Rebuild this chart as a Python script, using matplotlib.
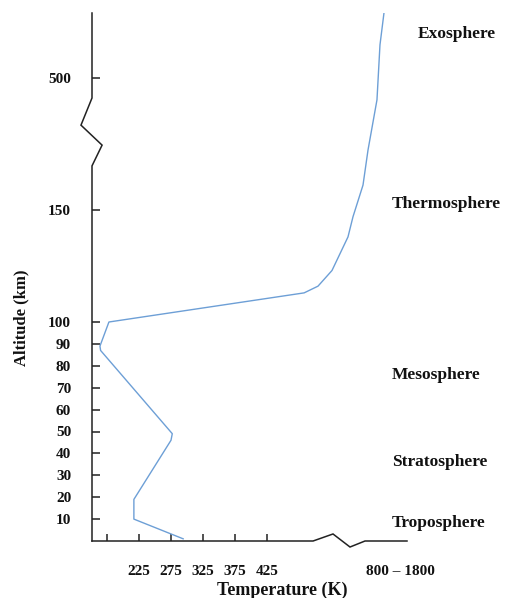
import numpy as np
import matplotlib
matplotlib.use("Agg")
import matplotlib.pyplot as plt
import matplotlib.transforms as mtransforms

# Temperature profile of the atmosphere
temperature = [294, 217, 217, 275, 277, 165, 164, 178, 483, 518, 602, 698,
               728, 788, 843, 971, 1014, 1071]
altitude = [1, 10, 19, 46, 49, 87, 89, 100, 113, 116, 123, 138,
            147, 216, 309, 442, 602, 700]

alt_ticks = [10, 20, 30, 40, 50, 60, 70, 80, 90, 100, 150, 500]
temp_ticks = [175, 225, 275, 325, 375, 425]
temp_labels = ["", "225", "275", "325", "375", "425"]
hot_label = "800 \u2013 1800"

layers = ["Exosphere", "Thermosphere", "Mesosphere", "Stratosphere", "Troposphere"]
layer_alt = [635, 166, 76, 36, 8.3]
layer_x = [418, 392, 392, 392, 392]

# piecewise (broken) axis scales
T_knots = [0, 150, 500, 800, 1800, 5000]
T_px = [-5, 91, 315, 365, 435, 659]
A_knots = [-100, 0, 100, 150, 500, 700, 2000]
A_px = [-162, 57, 276, 388, 520, 585, 1007]


def t_fwd(v):
    return np.interp(v, T_knots, T_px)


def t_inv(v):
    return np.interp(v, T_px, T_knots)


def a_fwd(v):
    return np.interp(v, A_knots, A_px)


def a_inv(v):
    return np.interp(v, A_px, A_knots)


W, H = 506, 598
fig = plt.figure(figsize=(W / 100, H / 100), dpi=100)
ax = fig.add_axes([92 / W, 57 / H, (407 - 92) / W, (585 - 57) / H])
ax.set_xscale("function", functions=(t_fwd, t_inv))
ax.set_yscale("function", functions=(a_fwd, a_inv))
ax.set_xlim(t_inv(92), 1400)
ax.set_ylim(0, 700)

serif = "Liberation Serif"
ax.plot(temperature, altitude, color="#6d9fd6", lw=1.0)

for s in ax.spines.values():
    s.set_visible(False)

# axis lines with break marks
lk = dict(color="#222222", lw=1.1, clip_on=False, solid_joinstyle="miter")
yb = mtransforms.blended_transform_factory(ax.transAxes, ax.transData)
ax.plot([0, 0, -0.035, 0.032, 0, 0], [700, 447, 375, 322, 267, 0], transform=yb, **lk)
xb = mtransforms.blended_transform_factory(ax.transData, ax.transAxes)
ax.plot([t_inv(92), 497, 608, 710, 800, 1400], [0, 0, 0.0133, -0.0114, 0, 0],
        transform=xb, **lk)

ax.set_yticks(alt_ticks)
ax.set_yticklabels([str(a) for a in alt_ticks])
ax.set_xticks(temp_ticks)
ax.set_xticklabels(temp_labels)
ax.set_xticks([1300], minor=True)
ax.set_xticklabels([hot_label], minor=True)
ax.yaxis.set_minor_locator(matplotlib.ticker.NullLocator())
ax.tick_params(axis="y", direction="in", length=6, width=1.1, color="#222222", pad=15)
ax.tick_params(axis="x", which="major", direction="in", length=5, width=1.1,
               color="#222222", pad=17)
ax.tick_params(axis="x", which="minor", length=0, pad=17)
for lab in ax.get_xticklabels() + ax.get_yticklabels() + ax.get_xticklabels(minor=True):
    lab.set_fontfamily(serif)
    lab.set_fontweight("bold")
    lab.set_fontsize(11)
    lab.set_color("#111111")

fig.text(282 / W, 1 - 590 / H, "Temperature (K)", ha="center", va="center",
         family=serif, weight="bold", fontsize=13, color="#111111")
fig.text(21 / W, 1 - 318 / H, "Altitude (km)", ha="center", va="center", rotation=90,
         family=serif, weight="bold", fontsize=12, color="#111111")

lt = mtransforms.blended_transform_factory(fig.transFigure, ax.transData)
for name, a, x in zip(layers, layer_alt, layer_x):
    ax.text(x / W, a, name, transform=lt, ha="left", va="center", family=serif,
            weight="bold", fontsize=12.5, color="#111111", clip_on=False)

fig.savefig("out.png", dpi=100)
